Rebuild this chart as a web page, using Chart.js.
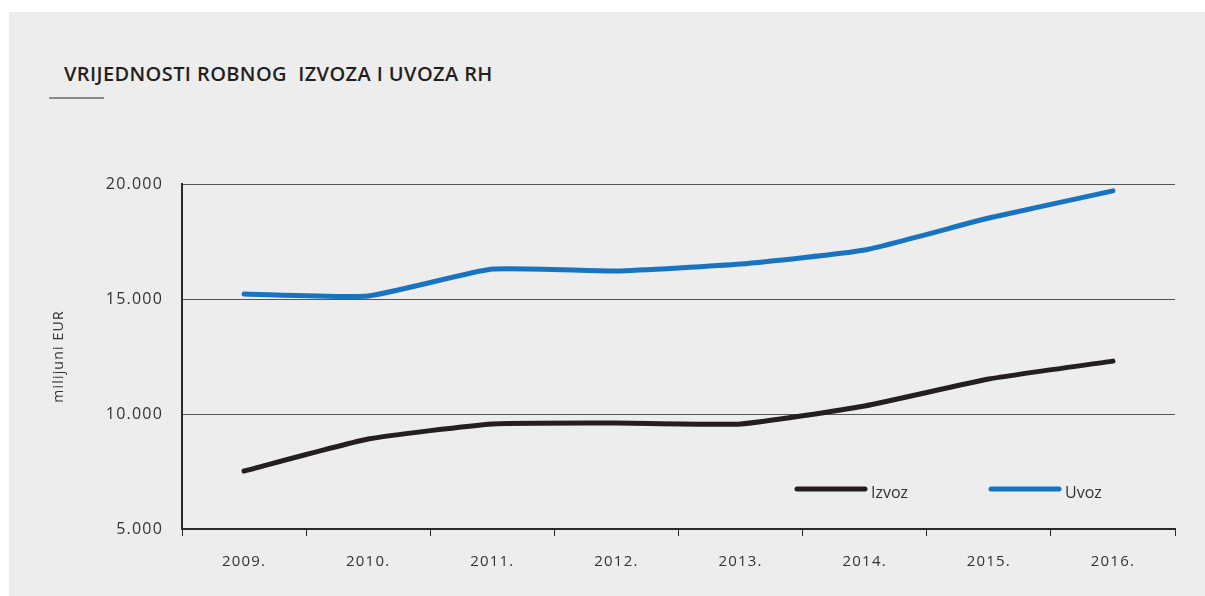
<!DOCTYPE html>
<html>
<head>
<meta charset="utf-8">
<script src="https://cdn.jsdelivr.net/npm/chart.js@4/dist/chart.umd.min.js"></script>
<style>
  html, body { margin: 0; padding: 0; background: #ffffff; width: 1205px; height: 596px; overflow: hidden; }
  #panel { position: absolute; left: 9px; top: 12px; width: 1196px; height: 584px; background: #ededed; }
  #title { position: absolute; left: 64px; top: 60px; font-family: "Open Sans", sans-serif; font-weight: 600; font-size: 20px; color: #231f20; white-space: pre; letter-spacing: 0.4px; }
  #rule { position: absolute; left: 49px; top: 97px; width: 55px; height: 2px; background: #8a8a8a; }
  #wrap { position: absolute; left: 0; top: 0; width: 1205px; height: 596px; }
</style>
</head>
<body>
<div id="panel"></div>
<div id="title">VRIJEDNOSTI ROBNOG  IZVOZA I UVOZA RH</div>
<div id="rule"></div>
<div id="wrap"><canvas id="c" width="1205" height="596"></canvas></div>
<script>
const categories = ["2009.", "2010.", "2011.", "2012.", "2013.", "2014.", "2015.", "2016."];
const izvoz = [7520, 8910, 9570, 9610, 9570, 10350, 11520, 12300];
const uvoz = [15220, 15130, 16300, 16220, 16520, 17130, 18520, 19700];
const seriesNames = ["Izvoz", "Uvoz"];
const seriesColors = ["#231f20", "#1874c1"];
const yTicks = [5000, 10000, 15000, 20000];

function fmt(v) {
  return String(v).replace(/\B(?=(\d{3})+(?!\d))/g, ".");
}

const legendPlugin = {
  id: "customLegend",
  afterDraw(chart) {
    const ctx = chart.ctx;
    const a = chart.chartArea;
    const y = a.bottom - 40;
    const starts = [a.right - 378, a.right - 184];
    ctx.save();
    ctx.letterSpacing = "0px";
    seriesNames.forEach((name, i) => {
      const x = starts[i];
      ctx.strokeStyle = seriesColors[i];
      ctx.lineWidth = 5;
      ctx.lineCap = "round";
      ctx.beginPath();
      ctx.moveTo(x, y);
      ctx.lineTo(x + 68, y);
      ctx.stroke();
      ctx.fillStyle = "#333333";
      ctx.font = "16px 'Open Sans', sans-serif";
      ctx.textBaseline = "middle";
      ctx.textAlign = "left";
      ctx.fillText(name, x + 74, y + 4);
    });
    ctx.restore();
  }
};

const spacingPlugin = {
  id: "spacing",
  beforeDraw(chart) { chart.ctx.letterSpacing = "1.2px"; }
};

new Chart(document.getElementById("c"), {
  type: "line",
  data: {
    labels: categories,
    datasets: [
      { label: seriesNames[0], data: izvoz, borderColor: seriesColors[0], backgroundColor: seriesColors[0], borderWidth: 5, pointRadius: 0, tension: 0.15, borderCapStyle: "round", borderJoinStyle: "round" },
      { label: seriesNames[1], data: uvoz, borderColor: seriesColors[1], backgroundColor: seriesColors[1], borderWidth: 5, pointRadius: 0, tension: 0.15, borderCapStyle: "round", borderJoinStyle: "round" }
    ]
  },
  options: {
    responsive: false,
    animation: false,
    devicePixelRatio: 1,
    layout: { padding: { top: 184, right: 30, bottom: 0, left: 0 } },
    plugins: { legend: { display: false }, tooltip: { enabled: false } },
    scales: {
      x: {
        offset: true,
        grid: { offset: true, drawOnChartArea: false, drawTicks: true, tickLength: 7, color: "#2a2a2a", lineWidth: 1 },
        border: { display: true, color: "#2a2a2a", width: 2 },
        ticks: { color: "#333333", font: { family: "'Open Sans', sans-serif", size: 15 }, padding: 17, maxRotation: 0, autoSkip: false },
        afterFit(scale) { scale.height = 67; }
      },
      y: {
        min: 5000,
        max: 20000,
        afterBuildTicks(scale) { scale.ticks = yTicks.map(v => ({ value: v })); },
        grid: { color: "#555555", lineWidth: 1, drawTicks: false },
        border: { display: true, color: "#2a2a2a", width: 2 },
        ticks: { color: "#333333", font: { family: "'Open Sans', sans-serif", size: 16 }, padding: 19, callback: v => fmt(v) },
        title: { display: true, text: "milijuni EUR", color: "#333333", font: { family: "'Open Sans', sans-serif", size: 14 }, padding: { top: 51, bottom: 0 } },
        afterFit(scale) { scale.width = 182; }
      }
    }
  },
  plugins: [spacingPlugin, legendPlugin]
});
</script>
</body>
</html>
